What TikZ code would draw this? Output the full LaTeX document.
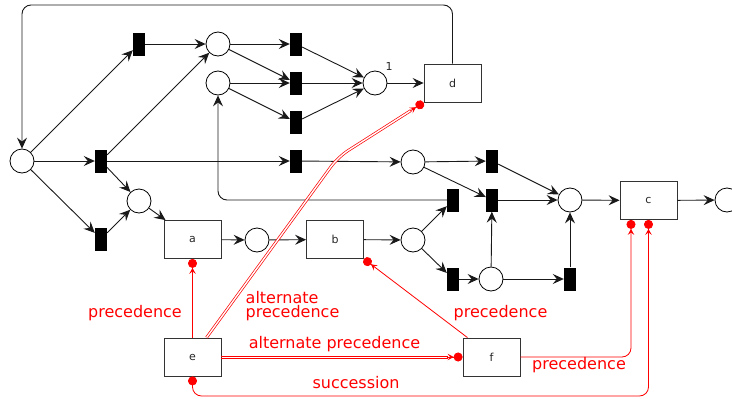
\documentclass[tikz,border=0pt]{standalone}
\usepackage{fontspec}
\setmainfont{DejaVu Sans}
\usetikzlibrary{arrows.meta,calc}

\begin{document}
\begin{tikzpicture}[x=1pt,y=-1pt,
  place/.style={circle,draw=black,fill=white,minimum size=24pt,inner sep=0pt,line width=0.8pt},
  trans/.style={rectangle,fill=black,minimum width=12pt,minimum height=23pt,inner sep=0pt},
  act/.style={rectangle,draw=black!80,fill=white,minimum width=57pt,minimum height=38pt,
    inner sep=0pt,line width=0.8pt,text=black!85,font=\fontsize{11}{13}\selectfont},
  arc/.style={draw=black!90,line width=0.9pt,-{Stealth[length=11pt,width=10pt,inset=4pt]}},
  con/.style={draw=red,line width=0.8pt},
  dbl/.style={draw=red,line width=0.7pt,double=white,double distance=1.4pt},
  tgt/.style={-{Stealth[length=6pt,width=6.5pt,inset=2.5pt]Circle[length=9pt]}},
  srctgt/.style={{Circle[length=9pt]}-{Stealth[length=6pt,width=6.5pt,inset=2.5pt]Circle[length=9pt]}},
  lbl/.style={text=red,inner sep=0pt,font=\fontsize{16}{13}\selectfont}]
\useasboundingbox (0,0) rectangle (732,399);

% places
\node[place] (p0)  at (22,161) {};
\node[place] (p1)  at (218,44) {};
\node[place] (p2)  at (218,83) {};
\node[place] (p3)  at (375,83) {};
\node[place] (p4)  at (139,201) {};
\node[place] (p5)  at (413,162) {};
\node[place] (p6)  at (570,200) {};
\node[place] (p7)  at (727,200) {};
\node[place] (p8)  at (257,240) {};
\node[place] (p9)  at (413,240) {};
\node[place] (p10) at (491,279) {};
\node[inner sep=0pt,font=\fontsize{11}{13}\selectfont,text=black!85] (one) at (389,66) {1};

% transitions
\node[trans] (t1)  at (139,44) {};
\node[trans] (t2)  at (101,161) {};
\node[trans] (t3)  at (101,239) {};
\node[trans] (t4)  at (296,44) {};
\node[trans] (t5)  at (296,83) {};
\node[trans] (t6)  at (296,122) {};
\node[trans] (t7)  at (296,161) {};
\node[trans] (t8)  at (492,161) {};
\node[trans] (t9)  at (453,200) {};
\node[trans] (t10) at (492,200) {};
\node[trans] (t11) at (453,279) {};
\node[trans] (t12) at (570,279) {};

% activities
\node[act] (d) at (452.5,83) {d};
\node[act] (c) at (648.5,200.5) {c};
\node[act] (a) at (192.5,239.5) {a};
\node[act] (b) at (335,239.5) {b};
\node[act] (e) at (192.5,357) {e};
\node[act] (f) at (491.5,357) {f};

% bend points
\coordinate (rt) at (452.5,5);
\coordinate (lt) at (22,5);
\coordinate (k1) at (338,157);
\coordinate (sb) at (192.5,396);
\coordinate (sc) at (648.5,396);
\coordinate (pc) at (631,357);

% net arcs
\draw[arc] (p0) -- (t1);
\draw[arc] (p0) -- (t2);
\draw[arc] (p0) -- (t3);
\draw[arc] (t1) -- (p1);
\draw[arc] (t2) -- (p1);
\draw[arc] (t2) -- (t7);
\draw[arc] (t2) -- (p4);
\draw[arc] (t3) -- (p4);
\draw[arc] (p4) -- (a);
\draw[arc] (p1) -- (t4);
\draw[arc] (p1) -- (t5);
\draw[arc] (p2) -- (t5);
\draw[arc] (p2) -- (t6);
\draw[arc] (t4) -- (p3);
\draw[arc] (t5) -- (p3);
\draw[arc] (t6) -- (p3);
\draw[arc] (p3) -- (d);
\draw[arc,rounded corners=9pt] (d.north) -- (rt) -- (lt) -- (p0.north);
\draw[arc] (t7) -- (p5);
\draw[arc] (p5) -- (t8);
\draw[arc] (p5) -- (t10);
\draw[arc] (t8) -- (p6);
\draw[arc] (t10) -- (p6);
\draw[arc] (p6) -- (c);
\draw[arc] (c) -- (p7);
\draw[arc] (a) -- (p8);
\draw[arc] (p8) -- (b);
\draw[arc] (b) -- (p9);
\draw[arc] (p9) -- (t9);
\draw[arc] (p9) -- (t11);
\draw[arc] (t11) -- (p10);
\draw[arc] (p10) -- (t10);
\draw[arc] (p10) -- (t12);
\draw[arc] (t12) -- (p6);
\draw[arc,rounded corners=9pt] (t9.west) -| (p2.south);

% constraints
\draw[con,tgt] (e.north) -- (a.south);
\draw[con,tgt] ([xshift=-24pt]f.north) -- (b.south east);
\draw[con,tgt,rounded corners=9pt] (f.east) -- (pc) -- ([xshift=-17.5pt]c.south);
\draw[con,srctgt,rounded corners=9pt] (e.south) -- (sb) -- (sc) -- (c.south);
% alternate precedence e -> d (double line)
\draw[dbl,rounded corners=12pt,shorten >=15pt] ([xshift=14pt]e.north) -- (k1) -- (d.south west);
\draw[con,tgt] ($(d.south west)!16pt!(k1)$) -- (d.south west);
% alternate precedence e -> f (double line drawn as two strokes)
\draw[con,line width=0.7pt] ([yshift=1.05pt]e.east) -- ([yshift=1.05pt,xshift=-15pt]f.west);
\draw[con,line width=0.7pt] ([yshift=-1.05pt]e.east) -- ([yshift=-1.05pt,xshift=-15pt]f.west);
\draw[con,tgt] ($(f.west)+(-16,0)$) -- (f.west);

% constraint labels
\node[lbl] (l1) at (135,313) {precedence};
\node[lbl,anchor=base west] (l2a) at (245.5,303.5) {alternate};
\node[lbl,anchor=base west] (l2b) at (245.5,317.5) {precedence};
\node[lbl] (l3) at (334.5,344) {alternate precedence};
\node[lbl] (l4) at (500.5,313) {precedence};
\node[lbl] (l5) at (579,365) {precedence};
\node[lbl] (l6) at (356,382.5) {succession};
\end{tikzpicture}
\end{document}
